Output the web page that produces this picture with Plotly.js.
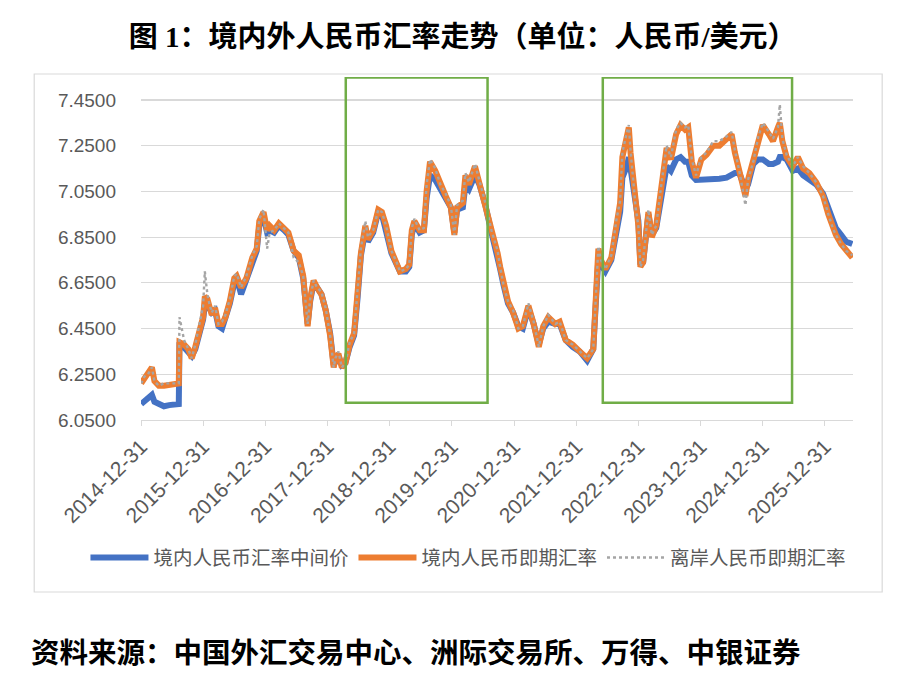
<!DOCTYPE html>
<html>
<head>
<meta charset="utf-8">
<script src="https://cdn.plot.ly/plotly-3.0.1.min.js"></script>
<style>
html,body{margin:0;padding:0;background:#fff;}
#chart{width:900px;height:675px;}
</style>
</head>
<body>
<div id="chart"></div>
<script>
// ---- data ----
const dates = [
"2015-01-01","2015-01-20","2015-02-10","2015-03-05","2015-03-20","2015-04-15","2015-05-15","2015-06-15","2015-07-15","2015-08-10",
"2015-08-14","2015-09-10","2015-10-05","2015-10-25","2015-11-15","2015-12-10","2015-12-31","2016-01-10","2016-01-25","2016-02-05",
"2016-02-20","2016-03-10","2016-03-30","2016-04-20","2016-05-10","2016-06-05","2016-07-01","2016-07-15","2016-08-10","2016-09-10",
"2016-10-15","2016-11-10","2016-11-25","2016-12-20","2017-01-10","2017-01-25","2017-02-20","2017-03-20","2017-04-20","2017-05-15",
"2017-06-15","2017-07-15","2017-08-10","2017-09-05","2017-09-20","2017-10-10","2017-10-30","2017-11-25","2017-12-20","2018-01-15",
"2018-02-05","2018-02-15","2018-03-05","2018-03-25","2018-04-15","2018-05-10","2018-06-05","2018-06-25","2018-07-15","2018-08-10",
"2018-08-25","2018-09-25","2018-10-25","2018-11-15","2018-12-10","2019-01-10","2019-02-10","2019-03-01","2019-04-05","2019-04-25",
"2019-05-10","2019-05-25","2019-06-25","2019-07-20","2019-08-05","2019-08-25","2019-09-25","2019-10-25","2019-11-25","2019-12-25",
"2020-01-15","2020-01-31","2020-03-05","2020-03-20","2020-04-10","2020-05-15","2020-06-10","2020-07-15","2020-08-20","2020-09-25",
"2020-10-10","2020-10-30","2020-11-25","2020-12-25","2021-01-25","2021-02-20","2021-03-25","2021-04-25","2021-05-25","2021-06-20",
"2021-07-20","2021-08-30","2021-09-25","2021-10-30","2021-12-10","2022-01-20","2022-03-05","2022-04-10","2022-04-25","2022-05-10",
"2022-05-25","2022-06-20","2022-07-25","2022-08-25","2022-09-15","2022-09-28","2022-10-25","2022-11-05","2022-11-15","2022-12-01",
"2022-12-15","2022-12-31","2023-01-12","2023-01-28","2023-02-28","2023-03-20","2023-04-15","2023-05-15","2023-06-15","2023-07-10",
"2023-08-10","2023-09-05","2023-10-01","2023-10-20","2023-11-10","2023-12-05","2024-01-05","2024-02-05","2024-03-15","2024-04-20",
"2024-06-01","2024-07-01","2024-07-20","2024-08-15","2024-09-20","2024-10-05","2024-11-05","2024-12-05","2024-12-31","2025-02-05",
"2025-03-01","2025-03-30","2025-04-10","2025-04-25","2025-05-20","2025-06-25","2025-07-25","2025-08-25","2025-10-01","2025-11-10",
"2025-12-20","2026-01-20","2026-02-15","2026-03-05","2026-04-05","2026-05-05","2026-06-10"
];

// 境内人民币即期汇率 (onshore spot)
const spot = [
6.21,6.23,6.25,6.28,6.22,6.20,6.20,6.205,6.21,6.21,
6.39,6.38,6.36,6.32,6.37,6.44,6.50,6.59,6.58,6.55,
6.51,6.54,6.47,6.47,6.50,6.57,6.67,6.68,6.63,6.67,
6.76,6.80,6.92,6.96,6.88,6.90,6.88,6.91,6.89,6.87,
6.79,6.77,6.68,6.46,6.58,6.66,6.63,6.60,6.53,6.42,
6.28,6.32,6.34,6.28,6.30,6.38,6.43,6.62,6.78,6.90,
6.84,6.88,6.97,6.96,6.90,6.79,6.73,6.70,6.71,6.73,
6.88,6.92,6.88,6.88,7.05,7.18,7.14,7.08,7.03,6.98,
6.86,6.98,7.00,7.12,7.08,7.16,7.09,6.99,6.88,6.78,
6.72,6.64,6.57,6.52,6.45,6.46,6.55,6.47,6.37,6.46,
6.50,6.47,6.48,6.40,6.38,6.35,6.32,6.36,6.60,6.80,
6.75,6.71,6.76,6.92,7.00,7.20,7.30,7.33,7.22,7.10,
6.98,6.90,6.72,6.74,6.96,6.85,6.90,7.07,7.24,7.19,
7.30,7.34,7.32,7.33,7.18,7.11,7.19,7.21,7.25,7.25,
7.28,7.30,7.22,7.14,7.03,7.10,7.18,7.28,7.34,7.30,
7.27,7.33,7.35,7.27,7.20,7.16,7.20,7.15,7.13,7.09,
7.03,6.95,6.89,6.86,6.82,6.79,6.76
];

// 境内人民币汇率中间价 (central parity)
const mid = [
6.12,6.13,6.14,6.16,6.13,6.12,6.11,6.115,6.115,6.12,
6.39,6.37,6.35,6.33,6.36,6.42,6.49,6.55,6.56,6.54,
6.52,6.53,6.46,6.45,6.49,6.56,6.65,6.67,6.60,6.67,
6.75,6.79,6.90,6.94,6.87,6.88,6.87,6.90,6.88,6.86,
6.79,6.76,6.67,6.47,6.57,6.65,6.63,6.60,6.53,6.43,
6.29,6.31,6.33,6.29,6.30,6.37,6.42,6.58,6.77,6.88,
6.83,6.87,6.96,6.95,6.88,6.78,6.73,6.70,6.70,6.72,
6.86,6.91,6.87,6.88,7.02,7.12,7.10,7.06,7.01,6.98,
6.87,6.97,6.98,7.08,7.06,7.12,7.08,6.99,6.87,6.77,
6.71,6.64,6.56,6.52,6.46,6.45,6.54,6.47,6.38,6.45,
6.48,6.47,6.47,6.40,6.37,6.35,6.31,6.36,6.55,6.76,
6.73,6.70,6.75,6.88,6.96,7.11,7.16,7.20,7.15,7.08,
6.97,6.92,6.73,6.74,6.95,6.86,6.89,7.04,7.16,7.14,
7.19,7.20,7.18,7.18,7.12,7.10,7.10,7.10,7.10,7.105,
7.11,7.125,7.13,7.13,7.06,7.08,7.17,7.19,7.19,7.17,
7.17,7.18,7.20,7.20,7.19,7.14,7.15,7.12,7.10,7.08,
7.04,6.98,6.93,6.89,6.86,6.83,6.82
];

// 离岸人民币即期汇率 (offshore spot)
const offshore = [
6.21,6.24,6.25,6.28,6.22,6.20,6.21,6.21,6.21,6.21,
6.50,6.40,6.36,6.32,6.38,6.47,6.55,6.70,6.60,6.56,
6.52,6.55,6.47,6.48,6.51,6.58,6.68,6.69,6.63,6.68,
6.77,6.81,6.93,6.97,6.80,6.87,6.88,6.91,6.89,6.87,
6.76,6.74,6.68,6.47,6.58,6.66,6.63,6.61,6.54,6.42,
6.28,6.32,6.35,6.28,6.30,6.39,6.43,6.63,6.80,6.92,
6.85,6.88,6.97,6.96,6.90,6.79,6.74,6.70,6.71,6.73,
6.89,6.93,6.88,6.89,7.08,7.19,7.15,7.08,7.04,6.99,
6.86,6.99,7.01,7.13,7.09,7.17,7.10,7.00,6.88,6.79,
6.72,6.64,6.57,6.53,6.45,6.46,6.56,6.48,6.37,6.46,
6.51,6.47,6.48,6.40,6.38,6.35,6.32,6.36,6.62,6.81,
6.75,6.71,6.77,6.93,7.01,7.22,7.31,7.34,7.23,7.10,
6.98,6.90,6.72,6.75,6.97,6.86,6.90,7.08,7.25,7.20,
7.32,7.35,7.33,7.34,7.19,7.12,7.20,7.22,7.27,7.27,
7.29,7.31,7.23,7.14,6.99,7.10,7.18,7.29,7.35,7.31,
7.28,7.33,7.43,7.28,7.21,7.16,7.20,7.16,7.13,7.09,
7.03,6.95,6.89,6.86,6.82,6.79,6.77
];

const yTicks = [6.05, 6.25, 6.45, 6.65, 6.85, 7.05, 7.25, 7.45];
const xTickVals = ["2014-12-31","2015-12-31","2016-12-31","2017-12-31","2018-12-31","2019-12-31",
                   "2020-12-31","2021-12-31","2022-12-31","2023-12-31","2024-12-31","2025-12-31"];
const xTickText = xTickVals.slice();

const seriesNames = ["境内人民币汇率中间价", "境内人民币即期汇率", "离岸人民币即期汇率"];
const highlightPeriods = [["2018-04-17","2020-07-28"],["2022-06-05","2025-06-21"]];

// ---- chart ----
const gray = "#595959";
const traces = [
  {x: dates, y: mid, name: seriesNames[0], type: "scatter", mode: "lines",
   line: {color: "#4472C4", width: 6}},
  {x: dates, y: spot, name: seriesNames[1], type: "scatter", mode: "lines",
   line: {color: "#ED7D31", width: 6}},
  {x: dates, y: offshore, name: seriesNames[2], type: "scatter", mode: "lines",
   line: {color: "#A5A5A5", width: 2.4, dash: "dot"}}
];

const shapes = [
  {type: "rect", xref: "paper", yref: "paper", x0: -0.150, x1: 1.041, y0: -0.5015, y1: 1.0087,
   line: {color: "#D9D9D9", width: 1.2}, fillcolor: "rgba(0,0,0,0)", layer: "below"}
];
highlightPeriods.forEach(p => shapes.push({
  type: "rect", xref: "x", yref: "y", x0: p[0], x1: p[1], y0: 6.126, y1: 7.548,
  line: {color: "#70AD47", width: 2.5}, fillcolor: "rgba(0,0,0,0)", layer: "above"
}));

const layout = {
  width: 900, height: 675,
  margin: {l: 141, r: 47, t: 77, b: 255},
  paper_bgcolor: "#fff", plot_bgcolor: "#fff",
  font: {family: "Liberation Sans, Arial, Noto Sans CJK SC, sans-serif", color: gray, size: 19},
  title: {
    text: "<b>图 1：境内外人民币汇率走势（单位：人民币/美元）</b>",
    xref: "container", yref: "container", x: 0.514, xanchor: "center", y: 0.945, yanchor: "middle",
    font: {family: "Liberation Serif, Noto Sans CJK SC, serif", size: 29, color: "#000"}
  },
  xaxis: {
    type: "date", range: ["2014-12-31", "2026-06-14"],
    tickmode: "array", tickvals: xTickVals, ticktext: xTickText, tickangle: -45,
    ticks: "outside", ticklen: 5, tickcolor: "#D9D9D9", tickwidth: 1,
    showline: true, linecolor: "#D9D9D9", linewidth: 1.2,
    showgrid: false, zeroline: false,
    tickfont: {size: 21, color: gray}
  },
  yaxis: {
    range: [6.05, 7.5504], tickmode: "array", tickvals: yTicks, tickformat: ".4f",
    showgrid: true, gridcolor: "#D9D9D9", gridwidth: 1.2,
    showline: false, zeroline: false, ticks: "", ticklabelstandoff: 24,
    tickfont: {size: 19, color: gray}
  },
  showlegend: true,
  legend: {
    orientation: "h", x: -0.078, xanchor: "left", y: -0.402, yanchor: "middle",
    font: {family: "Noto Sans CJK SC, sans-serif", size: 19.5, color: gray},
    itemwidth: 58, bgcolor: "rgba(0,0,0,0)", traceorder: "normal"
  },
  shapes: shapes,
  annotations: [
    {text: "<b>资料来源：中国外汇交易中心、洲际交易所、万得、中银证券</b>",
     xref: "paper", yref: "paper", x: -0.157, xanchor: "left", y: -0.673, yanchor: "middle",
     showarrow: false, font: {family: "Noto Sans CJK SC, sans-serif", size: 28.5, color: "#000"}}
  ]
};

Plotly.newPlot("chart", traces, layout, {displayModeBar: false, staticPlot: true});
</script>
</body>
</html>
